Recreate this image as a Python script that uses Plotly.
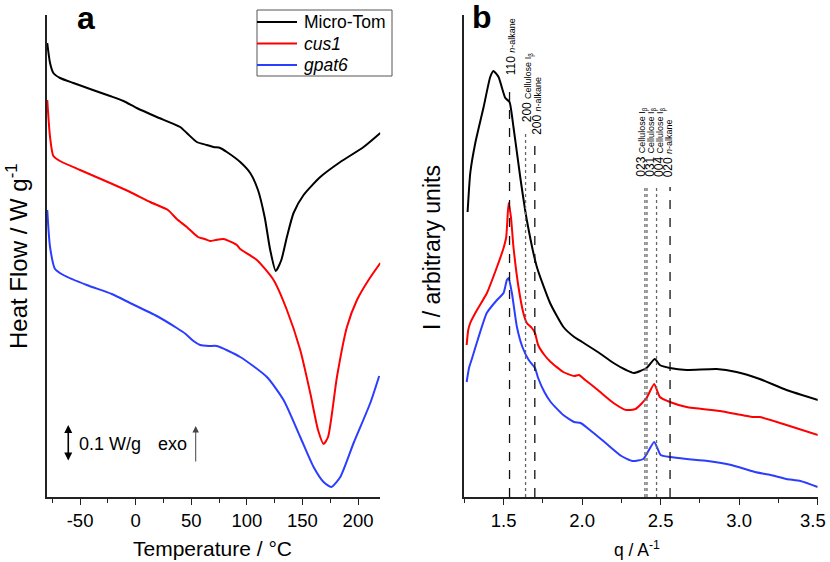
import plotly.graph_objects as go

# ---------------- Panel a: DSC (Temperature / °C, heat flow offset units, 36 units = 0.1 W/g)
t_micro = [-79.5, -77, -74, -68, -56, -41, -23, -11, 1, 19, 40, 46, 55, 64, 70, 76, 82, 94, 103, 110,
           116, 121, 126, 131, 136, 142, 151, 166, 184, 205, 220]
hf_micro = [454, 434, 424, 419, 414, 408, 401, 396, 389, 380, 370, 364, 355, 352, 350, 349, 345, 335, 324, 307,
            280, 247, 226, 237, 260, 284, 302, 320, 335, 350, 364]

t_cus1 = [-79.5, -77, -74, -68, -50, -23, -5, 13, 29, 37, 46, 56, 62, 67, 72, 79, 91, 94, 109, 124,
          136, 148, 157, 164, 169, 173, 181, 190, 199, 210, 220]
hf_cus1 = [397, 360, 341, 336, 327, 314, 305, 295, 287, 278, 270, 260, 258, 256, 257, 258, 252, 248, 237, 217,
           187, 147, 104, 67, 53, 60, 120, 170, 197, 218, 234]

t_gpat6 = [-79.5, -77, -72.5, -65, -44, -21.5, -5, 19, 37, 45, 52, 58, 66, 73, 94, 118, 133, 148, 160,
           169, 176, 184, 196, 211, 219]
hf_gpat6 = [287, 250, 228, 222, 212, 203, 194, 181, 169, 163, 156, 152, 151, 151, 140, 120, 97, 60, 30,
            15, 10, 20, 54, 94, 121]

temp_ticks = [-50, 0, 50, 100, 150, 200]
temp_ticktext = ["-50", "0", "50", "100", "150", "200"]

# ---------------- Panel b: scattering (q / A^-1, arbitrary units)
q_micro = [1.271, 1.288, 1.32, 1.373, 1.415, 1.436, 1.468, 1.511, 1.538, 1.563, 1.606, 1.648, 1.712, 1.796,
           1.881, 1.95, 2.0, 2.1, 2.2, 2.28, 2.33, 2.41, 2.463, 2.495, 2.559, 2.665, 2.856, 2.983, 3.131,
           3.301, 3.502]
i_micro = [285, 324, 354, 390, 420, 426, 420, 399, 395, 370, 320, 277, 230, 194,
           170, 160, 155, 145, 134, 127, 124, 129, 138, 132, 129, 127, 128, 125, 118,
           107, 97]

q_cus1 = [1.265, 1.275, 1.288, 1.32, 1.394, 1.458, 1.5, 1.517, 1.532, 1.547, 1.563, 1.595, 1.626, 1.648,
          1.68, 1.7, 1.72, 1.76, 1.8, 1.88, 1.95, 1.98, 2.02, 2.1, 2.2, 2.28, 2.34, 2.41, 2.459, 2.495,
          2.559, 2.665, 2.707, 2.876, 3.088, 3.131, 3.301, 3.502]
i_cus1 = [152, 167, 174, 184, 204, 230, 249, 260, 294, 280, 250, 210, 184, 174,
          169, 164, 152, 142, 135, 125, 121, 122, 117, 107, 94, 87, 88, 99, 113, 100,
          95, 90, 89, 86, 80, 80, 72, 62]

q_gpat6 = [1.265, 1.28, 1.3, 1.339, 1.393, 1.458, 1.5, 1.521, 1.532, 1.553, 1.585, 1.62, 1.66, 1.7, 1.72,
           1.76, 1.8, 1.88, 1.95, 1.99, 2.05, 2.15, 2.25, 2.32, 2.39, 2.459, 2.5, 2.56, 2.665, 2.8, 2.95,
           3.1, 3.2, 3.3, 3.39, 3.5]
i_gpat6 = [115, 129, 139, 159, 184, 197, 204, 217, 219, 204, 170, 150, 137, 129, 119,
           105, 95, 82, 75, 74, 67, 54, 41, 36, 38, 55, 42, 40, 38, 36, 32,
           25, 22, 18, 16, 10]

q_ticks = [1.5, 2.0, 2.5, 3.0, 3.5]
q_ticktext = ["1.5", "2.0", "2.5", "3.0", "3.5"]

# Reflection markers (panel b)
ref_q = [1.538, 1.64, 1.699, 2.40, 2.413, 2.474, 2.56]
ref_hkl = ["110", "200", "200", "023", "031", "004", "020"]
ref_phase = ["n-alkane", "Cellulose", "n-alkane", "Cellulose", "Cellulose", "Cellulose", "n-alkane"]
ref_top = [412, 365, 352, 310, 310, 310, 310]
ref_label_q = [1.552, 1.654, 1.712, 2.376, 2.434, 2.492, 2.549]

series_names = ["Micro-Tom", "<i>cus1</i>", "<i>gpat6</i>"]
colors = ["#000000", "#ff0000", "#2b3dff"]

FONT = "Arial, Liberation Sans, sans-serif"
W, H = 830, 562

fig = go.Figure()
for t, v, name, c in zip([t_micro, t_cus1, t_gpat6], [hf_micro, hf_cus1, hf_gpat6], series_names, colors):
    fig.add_trace(go.Scatter(x=t, y=v, mode="lines", name=name, showlegend=False,
                             line=dict(color=c, width=2, shape="spline", smoothing=0.6),
                             xaxis="x", yaxis="y"))
for q, v, c in zip([q_micro, q_cus1, q_gpat6], [i_micro, i_cus1, i_gpat6], colors):
    fig.add_trace(go.Scatter(x=q, y=v, mode="lines", showlegend=False,
                             line=dict(color=c, width=2, shape="spline", smoothing=0.5),
                             xaxis="x2", yaxis="y2"))

# reference lines
for q, top, phase in zip(ref_q, ref_top, ref_phase):
    dash = "dash" if phase == "n-alkane" else "dot"
    col = "#111111" if phase == "n-alkane" else "#666666"
    fig.add_shape(type="line", xref="x2", yref="y2", x0=q, x1=q, y0=0, y1=top,
                  line=dict(color=col, width=1.3, dash=dash))
for lq, top, hkl, phase in zip(ref_label_q, ref_top, ref_hkl, ref_phase):
    sub = "<i>n</i>-alkane" if phase == "n-alkane" else "Cellulose I<sub>β</sub>"
    fig.add_annotation(xref="x2", yref="y2", x=lq, y=top, yshift=8, textangle=-90,
                       text=f"{hkl} <span style='font-size:9px'>{sub}</span>", showarrow=False,
                       xanchor="center", yanchor="bottom", font=dict(family=FONT, size=12, color="#000"))

# custom legend box (paper coordinates, inside panel a)
fig.add_shape(type="rect", xref="paper", yref="paper", x0=257 / W, x1=392 / W, y0=1 - 76 / H, y1=1 - 10 / H,
              line=dict(color="#555", width=1), fillcolor="white", layer="above")
for name, c, ypx in zip(series_names, colors, [22, 43.5, 65]):
    fig.add_shape(type="line", xref="paper", yref="paper", x0=257 / W, x1=297 / W, y0=1 - ypx / H, y1=1 - ypx / H,
                  line=dict(color=c, width=2), layer="above")
    fig.add_annotation(xref="paper", yref="paper", x=302 / W, y=1 - ypx / H, text=name, showarrow=False,
                       xanchor="left", yanchor="middle", font=dict(family=FONT, size=17.5, color="#000"))

axis_common = dict(showline=True, linewidth=1.5, linecolor="#222", showgrid=False, zeroline=False,
                   ticks="outside", ticklen=6, tickwidth=1.2, tickcolor="#222",
                   tickfont=dict(family=FONT, size=18.5, color="#000"))
yaxis_common = dict(showline=True, linewidth=1.5, linecolor="#222", showgrid=False, zeroline=False,
                    showticklabels=False, ticks="", range=[0, 482])

# last q tick label sits at the page edge: drawn right-aligned so it stays inside the page
fig.update_layout(
    width=W, height=H, margin=dict(l=0, r=0, t=0, b=0),
    paper_bgcolor="white", plot_bgcolor="white", showlegend=False,
    xaxis=dict(domain=[46.7 / W, 380.3 / W], range=[-80, 220], tickvals=temp_ticks, ticktext=temp_ticktext,
               minor=dict(tickvals=[-75, -25, 25, 75, 125, 175], ticks="outside", ticklen=4, tickcolor="#222"),
               anchor="y", **axis_common),
    yaxis=dict(domain=[65 / H, 547 / H], anchor="x", **yaxis_common),
    xaxis2=dict(domain=[464.3 / W, 817.7 / W], range=[1.25, 3.5], tickvals=q_ticks,
                ticktext=q_ticktext[:-1] + [""],
                minor=dict(tickvals=[1.25, 1.75, 2.25, 2.75, 3.25], ticks="outside", ticklen=4, tickcolor="#222"),
                anchor="y2", **axis_common),
    yaxis2=dict(domain=[65 / H, 547 / H], anchor="x2", **yaxis_common),
)
fig.add_annotation(xref="x2", yref="paper", x=q_ticks[-1], y=1 - 520 / H, text=q_ticktext[-1],
                   xanchor="right", yanchor="middle", xshift=10, showarrow=False,
                   font=dict(family=FONT, size=18.5, color="#000"))

# Axis titles and panel letters
fig.add_annotation(xref="paper", yref="paper", x=213 / W, y=1 - 548 / H, text="Temperature / °C",
                   xanchor="center", yanchor="middle",
                   showarrow=False, font=dict(family=FONT, size=21, color="#000"))
fig.add_annotation(xref="paper", yref="paper", x=17 / W, y=1 - 256 / H, text="Heat Flow / W g<sup>-1</sup>",
                   xanchor="center", yanchor="middle",
                   textangle=-90, showarrow=False, font=dict(family=FONT, size=24, color="#000"))
fig.add_annotation(xref="paper", yref="paper", x=637 / W, y=1 - 549 / H, text="q / A<sup>-1</sup>",
                   xanchor="center", yanchor="middle",
                   showarrow=False, font=dict(family=FONT, size=17.5, color="#000"))
fig.add_annotation(xref="paper", yref="paper", x=432 / W, y=1 - 248 / H, text="I / arbitrary units",
                   xanchor="center", yanchor="middle",
                   textangle=-90, showarrow=False, font=dict(family=FONT, size=23, color="#000"))
fig.add_annotation(xref="paper", yref="paper", x=86 / W, y=1 - 18 / H, text="<b>a</b>",
                   xanchor="center", yanchor="middle",
                   showarrow=False, font=dict(family=FONT, size=32, color="#000"))
fig.add_annotation(xref="paper", yref="paper", x=482 / W, y=1 - 17 / H, text="<b>b</b>",
                   xanchor="center", yanchor="middle",
                   showarrow=False, font=dict(family=FONT, size=32, color="#000"))

# Scale bar (0.1 W/g) and exo arrow
fig.add_annotation(xref="x", yref="y", axref="x", ayref="y", x=-60.6, y=72, ax=-60.6, ay=35,
                   text="", showarrow=True, arrowhead=2, arrowside="end+start", arrowwidth=1.6,
                   arrowsize=1, arrowcolor="#000")
fig.add_annotation(xref="x", yref="y", x=-52.5, y=53, text="0.1 W/g", xanchor="left", yanchor="middle",
                   showarrow=False, font=dict(family=FONT, size=18, color="#000"))
fig.add_annotation(xref="x", yref="y", x=18.5, y=53, text="exo", xanchor="left", yanchor="middle",
                   showarrow=False, font=dict(family=FONT, size=18, color="#000"))
fig.add_annotation(xref="x", yref="y", axref="x", ayref="y", x=54, y=71, ax=54, ay=34,
                   text="", showarrow=True, arrowhead=2, arrowwidth=1, arrowsize=1.3, arrowcolor="#444")

fig.write_html("out.html", config={"displayModeBar": False},
               post_script="document.body.style.margin='0';")
